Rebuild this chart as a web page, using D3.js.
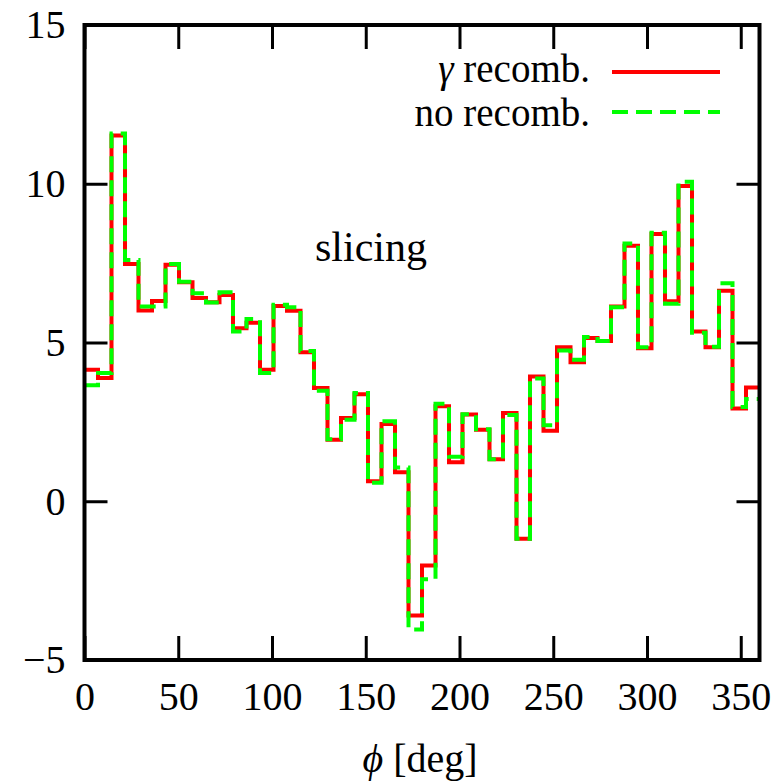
<!DOCTYPE html>
<html>
<head>
<meta charset="utf-8">
<script src="https://cdn.jsdelivr.net/npm/d3@7"></script>
<style>
  html, body { margin: 0; padding: 0; background: #fff; }
  svg text { font-family: "Liberation Serif", "DejaVu Serif", serif; fill: #000; }
</style>
</head>
<body>
<div id="chart"></div>
<script>
// phi bins, 7.2 deg wide (50 bins)
const binWidth = 7.2;
const recomb = [4.14, 3.88, 11.52, 7.47, 6.01, 6.31, 7.45, 6.9, 6.4, 6.27,
  6.5, 5.45, 5.62, 4.14, 6.15, 6.0, 4.69, 3.57, 1.94, 2.62,
  3.37, 0.63, 2.43, 0.91, -3.6, -2.02, 2.99, 1.23, 2.73, 2.25,
  1.32, 2.78, -1.18, 3.93, 2.22, 4.85, 4.38, 5.14, 5.05, 6.13,
  8.05, 4.82, 8.42, 6.3, 9.93, 5.35, 4.85, 6.63, 2.92, 3.58];
const noRecomb = [3.65, 4.04, 11.58, 7.6, 6.13, 6.13, 7.47, 6.91, 6.55, 6.26,
  6.58, 5.35, 5.74, 4.04, 6.19, 6.11, 4.73, 3.48, 1.95, 2.57,
  3.41, 0.58, 2.52, 1.06, -4.04, -2.46, 3.07, 1.4, 2.74, 2.27,
  1.32, 2.72, -1.18, 3.87, 2.39, 4.75, 4.46, 5.17, 5.05, 6.11,
  8.12, 4.85, 8.46, 6.22, 10.06, 5.31, 4.87, 6.87, 2.97, 3.22];
const xTicks = [0, 50, 100, 150, 200, 250, 300, 350];
const yTicks = [-5, 0, 5, 10, 15];
const series = [
  { name: 'recomb', label: 'γ recomb.', values: recomb, color: '#ff0000', dash: null },
  { name: 'norecomb', label: 'no recomb.', values: noRecomb, color: '#00ff00', dash: '16,8' }
];

const W = 773, H = 783;
const x = d3.scaleLinear().domain([0, 360]).range([84.5, 759.5]);
const y = d3.scaleLinear().domain([-5, 15]).range([660, 25]);

const svg = d3.select('#chart').append('svg')
  .attr('width', W).attr('height', H);

// steps: point at each bin start, plus end point at 360
function steps(vals) {
  const pts = vals.map((v, i) => [i * binWidth, v]);
  pts.push([vals.length * binWidth, vals[vals.length - 1]]);
  return pts;
}
const line = d3.line()
  .x(d => x(d[0])).y(d => y(d[1]))
  .curve(d3.curveStepAfter);

series.forEach(s => {
  svg.append('path')
    .attr('d', line(steps(s.values)))
    .attr('fill', 'none')
    .attr('stroke', s.color)
    .attr('stroke-width', 4)
    .attr('stroke-dasharray', s.dash);
});

// axes, ticks inward on all four sides
const fs = '40px';
const gBottom = svg.append('g').attr('transform', `translate(0,${y(-5)})`)
  .call(d3.axisBottom(x).tickValues(xTicks).tickSize(-24).tickPadding(22).tickFormat(d3.format('d')));
const gLeft = svg.append('g').attr('transform', `translate(${x(0)},0)`)
  .call(d3.axisLeft(y).tickValues(yTicks).tickSize(-23).tickPadding(19));
const gTop = svg.append('g').attr('transform', `translate(0,${y(15)})`)
  .call(d3.axisTop(x).tickValues(xTicks).tickSize(-24).tickFormat(''));
const gRight = svg.append('g').attr('transform', `translate(${x(360)},0)`)
  .call(d3.axisRight(y).tickValues(yTicks).tickSize(-23).tickFormat(''));

[gBottom, gLeft, gTop, gRight].forEach(g => {
  g.select('.domain').remove();
  g.selectAll('.tick line').attr('stroke', '#000').attr('stroke-width', 3);
  g.selectAll('.tick text').attr('font-size', fs).attr('font-family', null).attr('fill', '#000');
});

// frame
svg.append('rect')
  .attr('x', x(0)).attr('y', y(15))
  .attr('width', x(360) - x(0)).attr('height', y(-5) - y(15))
  .attr('fill', 'none').attr('stroke', '#000').attr('stroke-width', 4);

// legend
const legendY = [72, 112];
const legendBase = [82, 126];
series.forEach((s, i) => {
  const t = svg.append('text')
    .attr('x', 590).attr('y', legendBase[i])
    .attr('text-anchor', 'end')
    .attr('font-size', '39px');
  if (s.name === 'recomb') {
    t.append('tspan').attr('font-style', 'italic').text('γ');
    t.append('tspan').text(' recomb.');
  } else {
    t.text(s.label);
  }
  svg.append('line')
    .attr('x1', 612).attr('x2', 720)
    .attr('y1', legendY[i]).attr('y2', legendY[i])
    .attr('stroke', s.color)
    .attr('stroke-width', 4)
    .attr('stroke-dasharray', s.dash);
});

// annotation
svg.append('text')
  .attr('x', 371).attr('y', 261)
  .attr('text-anchor', 'middle')
  .attr('font-size', '42px')
  .text('slicing');

// x label
const xl = svg.append('text')
  .attr('x', 420).attr('y', 772)
  .attr('text-anchor', 'middle')
  .attr('font-size', fs);
xl.append('tspan').attr('font-style', 'italic').text('ϕ');
xl.append('tspan').text(' [deg]');
</script>
</body>
</html>
